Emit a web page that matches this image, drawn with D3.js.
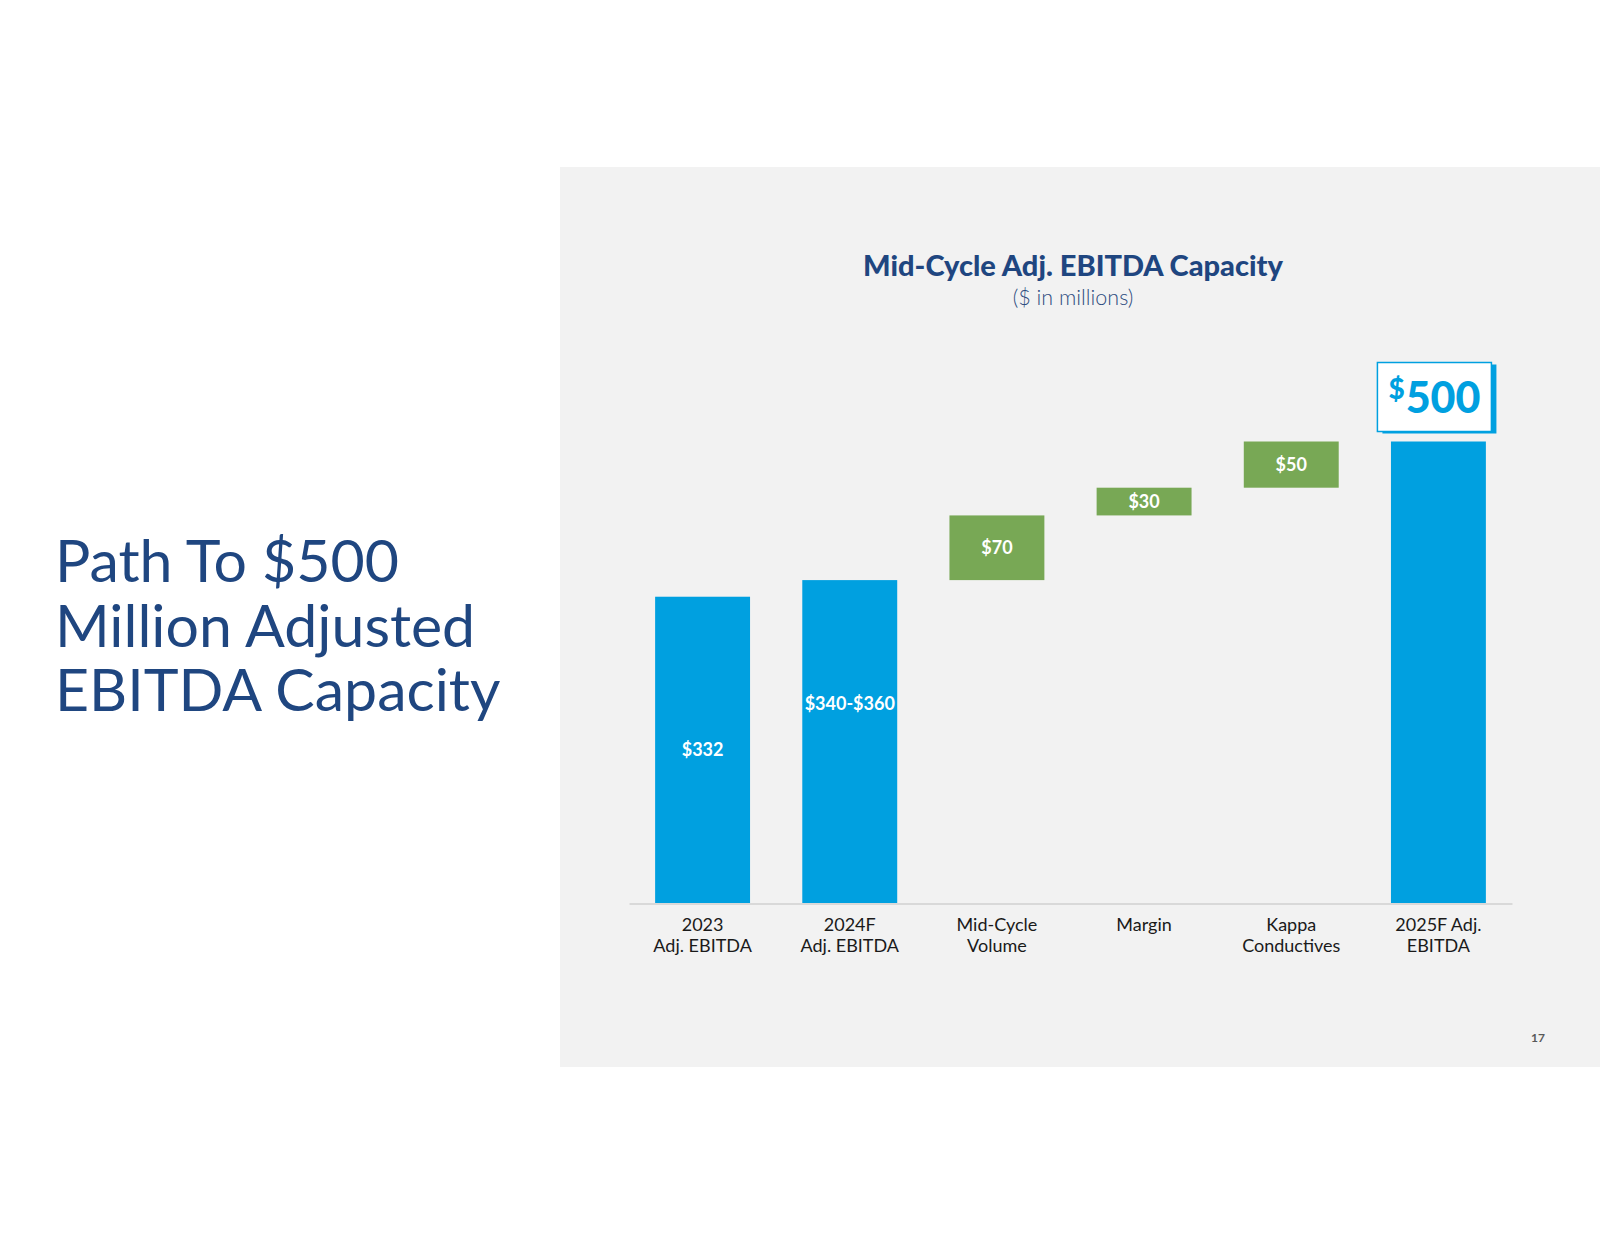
<!DOCTYPE html>
<html><head><meta charset="utf-8">
<script src="https://cdn.jsdelivr.net/npm/d3@7"></script>
<style>
html,body{margin:0;padding:0;background:#fff;}
svg{display:block;}
text{font-family:Lato,"Open Sans",sans-serif;}
</style></head>
<body>
<script>
// ---- data ----
const categories = [["2023","Adj. EBITDA"],["2024F","Adj. EBITDA"],["Mid-Cycle","Volume"],["Margin"],["Kappa","Conductives"],["2025F Adj.","EBITDA"]];
const values = [332, 350, 70, 30, 50, 500];
const kinds = ["total","total","delta","delta","delta","total"];
const valueLabels = ["$332","$340-$360","$70","$30","$50",""];
const labelPos = [0.5, 0.617, 0.5, 0.5, 0.5, 0.5];
const totalCallout = {sup:"$", value:"500"};
const pageTitle = ["Path To $500","Million Adjusted","EBITDA Capacity"];
const chartTitle = "Mid-Cycle Adj. EBITDA Capacity";
const chartSubtitle = "($ in millions)";
const pageNumber = "17";

const W = 1600, H = 1236;
const BLUE = "#00a0e0", GREEN = "#78a855", NAVY = "#1f4680";

const svg = d3.select("body").append("svg").attr("width",W).attr("height",H);

// panel
svg.append("rect").attr("x",560).attr("y",167).attr("width",1040).attr("height",900).attr("fill","#f2f2f2");

// left title
const lt = svg.append("text").attr("fill",NAVY).attr("font-size",59);
pageTitle.forEach((t,i)=>{
  lt.append("tspan").attr("x",55).attr("y",582+i*64.5).text(t);
});

// chart title
svg.append("text").attr("x",1073).attr("y",276).attr("text-anchor","middle")
  .attr("font-size",29).attr("font-weight",900).attr("fill",NAVY).text(chartTitle);
svg.append("text").attr("x",1073).attr("y",305).attr("text-anchor","middle")
  .attr("font-size",21.5).attr("font-weight",300).attr("fill","#2e4d80").text(chartSubtitle);

// scales
const ids = categories.map((c,i)=>i);
const x = d3.scaleBand().domain(ids).range([629,1512]).paddingInner(0.355).paddingOuter(0.1775);
const y = d3.scaleLinear().domain([0,500]).range([903.5,441.5]);

// waterfall
let running = 0;
const bars = values.map((v,i)=>{
  let lo, hi;
  if(kinds[i]==="total"){ lo=0; hi=v; running=v; }
  else { lo=running; hi=running+v; running=hi; }
  return {i, lo, hi, kind:kinds[i], label:valueLabels[i], pos:labelPos[i]};
});

const g = svg.append("g");
g.selectAll("rect.bar").data(bars).join("rect").attr("class","bar")
  .attr("x",d=>x(d.i)).attr("width",x.bandwidth())
  .attr("y",d=>y(d.hi)).attr("height",d=>y(d.lo)-y(d.hi))
  .attr("fill",d=>d.kind==="total"?BLUE:GREEN);

g.selectAll("text.vl").data(bars.filter(d=>d.label)).join("text").attr("class","vl")
  .attr("x",d=>x(d.i)+x.bandwidth()/2)
  .attr("y",d=>y(d.lo + (d.hi-d.lo)*d.pos))
  .attr("dy","0.35em").attr("text-anchor","middle")
  .attr("fill","#fff").attr("font-weight",700).attr("font-size",18)
  .text(d=>d.label);

// axis
const axis = d3.axisBottom(x).tickSize(0).tickFormat("");
const ag = svg.append("g").attr("transform","translate(0,"+y(0)+")").call(axis);
ag.select(".domain").attr("stroke","#d9d9d9").attr("stroke-width",2);
ag.selectAll(".tick").each(function(d){
  const t = d3.select(this).append("text").attr("fill","#1a1a1a").attr("font-size",18)
    .attr("text-anchor","middle");
  categories[d].forEach((line,k)=>{
    t.append("tspan").attr("x",0).attr("y",27+k*21).text(line);
  });
});

// callout for final total
const last = bars[bars.length-1];
const cx = x(last.i)+x.bandwidth()/2;
const boxW = 114, boxH = 69;
const bx = cx - boxW/2 - 4, by = y(last.hi) - 79;
svg.append("rect").attr("x",bx+5).attr("y",by+2).attr("width",boxW).attr("height",boxH).attr("fill",BLUE);
svg.append("rect").attr("x",bx).attr("y",by).attr("width",boxW).attr("height",boxH)
  .attr("fill","#fff").attr("stroke",BLUE).attr("stroke-width",1.5);
const ct = svg.append("text").attr("x",bx+boxW/2).attr("y",by+50).attr("text-anchor","middle")
  .attr("fill",BLUE).attr("font-weight",900);
ct.append("tspan").attr("font-size",28).attr("dy",-14).text(totalCallout.sup);
ct.append("tspan").attr("font-size",43).attr("dy",14).attr("dx",1).text(totalCallout.value);

// page number
svg.append("text").attr("x",1538).attr("y",1042).attr("text-anchor","middle")
  .attr("font-size",12).attr("font-weight",700).attr("fill","#595959").text(pageNumber);
</script>
</body></html>
